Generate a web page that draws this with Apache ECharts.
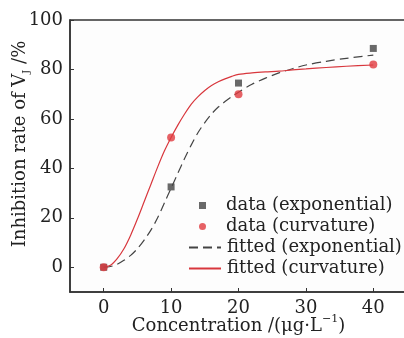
<!DOCTYPE html>
<html>
<head>
<meta charset="utf-8">
<script src="https://cdn.jsdelivr.net/npm/echarts@6/dist/echarts.min.js"></script>
<style>
  html, body { margin: 0; padding: 0; background: #fff; }
  #chart { width: 404px; height: 338px; }
</style>
</head>
<body>
<div id="chart"></div>
<script>
// measured points
const dataX = [0, 10, 20, 40];
const expData = [0, 32.5, 74.5, 88.5];
const curvData = [0, 52.5, 70, 82];

// fitted curves
const fitX = [0, 1, 2, 3, 4, 5, 6, 7, 8, 9, 10, 11, 12, 13, 14, 15, 16, 17, 18, 19, 20, 22, 24, 26, 28, 30, 33, 36, 40];
const expFit = [0, 0.3, 1.2, 2.8, 4.8, 7.5, 11, 15, 20, 26, 32, 38, 44, 49.5, 54.5, 58.5, 62, 64.8, 67, 69, 70.8, 74, 76.5, 78.6, 80.3, 81.8, 83.3, 84.5, 85.8];
const curvFit = [0, 0.8, 3.5, 7.5, 13, 19.5, 26.5, 33.5, 40.5, 47, 52.5, 57.5, 62, 66, 69, 71.5, 73.5, 75, 76.2, 77.2, 78, 78.6, 79, 79.3, 79.8, 80.2, 80.8, 81.3, 81.8];

const xTicks = [0, 10, 20, 30, 40];
const yTicks = [0, 20, 40, 60, 80, 100];

const names = ['data (exponential)', 'data (curvature)', 'fitted (exponential)', 'fitted (curvature)'];

const font = 'DejaVu Serif';
const fs = 18;
const ink = '#333';
const txt = '#222';
const red = '#d8373d';
const grey = '#444';

const pairs = (xs, ys) => xs.map((x, i) => [x, ys[i]]);

const chart = echarts.init(document.getElementById('chart'));
chart.setOption({
  animation: false,
  backgroundColor: '#fff',
  grid: {
    left: 70, top: 20, right: -3, bottom: 46,
    outerBoundsMode: 'none', containLabel: false,
    show: true, borderColor: ink, borderWidth: 1.5, backgroundColor: '#fdfdfd'
  },
  legend: [{
    data: names.slice(0, 2),
    orient: 'vertical',
    left: 199, top: 196, padding: 0,
    itemWidth: 7, itemHeight: 7, itemGap: 2,
    textStyle: { fontFamily: font, fontSize: fs, lineHeight: 19, color: txt, padding: [0, 0, 0, 15] }
  }, {
    data: names.slice(2),
    orient: 'vertical',
    left: 188, top: 238, padding: 0,
    itemWidth: 32, itemHeight: 8, itemGap: 2,
    itemStyle: { color: 'transparent', borderWidth: 0 },
    textStyle: { fontFamily: font, fontSize: fs, lineHeight: 19, color: txt, padding: [0, 0, 0, 1] }
  }],
  xAxis: {
    type: 'value', min: -5, max: 45,
    name: '{a|Concentration /(μg·L}{sup|−1}{a|)}',
    nameLocation: 'middle', nameGap: 22, nameMoveOverlap: false,
    nameTextStyle: {
      rich: {
        a: { fontFamily: font, fontSize: fs, color: txt },
        sup: { fontFamily: font, fontSize: 11, color: txt, verticalAlign: 'top', lineHeight: 24 }
      }
    },
    axisLine: { onZero: false, lineStyle: { color: ink, width: 1.5 } },
    axisTick: { inside: true, length: 4, customValues: xTicks, lineStyle: { color: ink } },
    axisLabel: { customValues: xTicks, fontFamily: font, fontSize: fs, color: txt, margin: 7 },
    splitLine: { show: false }
  },
  yAxis: {
    type: 'value', min: -10, max: 100,
    name: '{a|Inhibition rate of V}{sub|J}{a| /%}',
    nameLocation: 'middle', nameGap: 39, nameRotate: 90, nameMoveOverlap: false,
    nameTextStyle: {
      padding: [0, 0, 0, 24],
      rich: {
        a: { fontFamily: font, fontSize: fs, color: txt },
        sub: { fontFamily: font, fontSize: 10, color: txt, verticalAlign: 'bottom', lineHeight: 22 }
      }
    },
    axisLine: { onZero: false, lineStyle: { color: ink, width: 1.5 } },
    axisTick: { inside: true, length: 4, customValues: yTicks, lineStyle: { color: ink } },
    axisLabel: { customValues: yTicks, fontFamily: font, fontSize: fs, color: txt, margin: 7 },
    splitLine: { show: false }
  },
  series: [{
    name: names[2], type: 'line', data: pairs(fitX, expFit),
    symbol: 'none', smooth: 0.3, z: 2,
    lineStyle: { color: grey, width: 1.2, type: [9, 5] },
    itemStyle: { color: grey }
  }, {
    name: names[3], type: 'line', data: pairs(fitX, curvFit),
    symbol: 'none', smooth: 0.3, z: 2,
    lineStyle: { color: red, width: 1.2 },
    itemStyle: { color: red }
  }, {
    name: names[0], type: 'scatter', data: pairs(dataX, expData),
    symbol: 'rect', symbolSize: 7, z: 3,
    itemStyle: { color: grey }
  }, {
    name: names[1], type: 'scatter', data: pairs(dataX, curvData),
    symbol: 'circle', symbolSize: 8, z: 3,
    itemStyle: { color: '#e0393e' }
  }]
});
</script>
</body>
</html>
